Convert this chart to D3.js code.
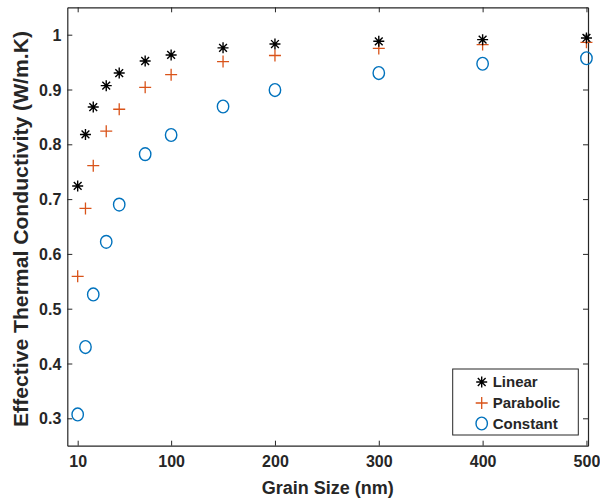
<!DOCTYPE html>
<html><head><meta charset="utf-8">
<script src="https://cdn.jsdelivr.net/npm/d3@7"></script>
<style>body{margin:0;background:#fff}svg{display:block}text{font-family:"Liberation Sans",Arial,sans-serif;font-weight:bold;fill:#262626}</style>
</head><body>
<svg id="c" width="600" height="499"></svg>
<script>
const grainSize = [10, 17.5, 25, 37.5, 50, 75, 100, 150, 200, 300, 400, 500];
const linear    = [0.724, 0.818, 0.868, 0.907, 0.930, 0.952, 0.963, 0.976, 0.983, 0.988, 0.991, 0.994];
const parabolic = [0.559, 0.683, 0.761, 0.824, 0.864, 0.904, 0.927, 0.951, 0.962, 0.975, 0.982, 0.986];
const constant  = [0.307, 0.430, 0.526, 0.622, 0.690, 0.782, 0.817, 0.869, 0.899, 0.930, 0.947, 0.957];
const xTicks = [10, 100, 200, 300, 400, 500];
const yTicks = [0.3, 0.4, 0.5, 0.6, 0.7, 0.8, 0.9, 1];
const seriesNames = ["Linear", "Parabolic", "Constant"];
const seriesColors = ["#000000", "#D95319", "#0072BD"];

const svg = d3.select("#c");
const L = 67.3, R = 588, T = 7.3, B = 445.7;
const x = d3.scaleLinear().domain([0, 501.5]).range([L, R]);
const y = d3.scaleLinear().domain([0.25, 1.05]).range([B, T]);
const axisColor = "#262626";

// axes (inward ticks, boxed)
const fmtY = d => d === 1 ? "1" : d3.format(".1f")(d);
const gB = svg.append("g").attr("transform", `translate(0,${B})`)
  .call(d3.axisBottom(x).tickValues(xTicks).tickSizeInner(-5).tickSizeOuter(0).tickPadding(10));
const gT = svg.append("g").attr("transform", `translate(0,${T})`)
  .call(d3.axisTop(x).tickValues(xTicks).tickSizeInner(-5).tickSizeOuter(0).tickFormat(""));
const gL = svg.append("g").attr("transform", `translate(${L},0)`)
  .call(d3.axisLeft(y).tickValues(yTicks).tickSizeInner(-5).tickSizeOuter(0).tickPadding(6).tickFormat(fmtY));
const gR = svg.append("g").attr("transform", `translate(${R},0)`)
  .call(d3.axisRight(y).tickValues(yTicks).tickSizeInner(-5).tickSizeOuter(0).tickFormat(""));
[gB, gT, gL, gR].forEach(g => {
  g.select(".domain").attr("stroke", axisColor).attr("stroke-width", 1.2);
  g.selectAll(".tick line").attr("stroke", axisColor).attr("stroke-width", 1);
  g.selectAll(".tick text").style("font-size", "16px").attr("fill", axisColor);
});
gB.selectAll(".tick text").attr("dy", "0.71em");
gL.selectAll(".tick text").attr("dy", "0.35em");

// axis labels
svg.append("text").attr("x", (L + R) / 2 + 0).attr("y", 494).attr("text-anchor", "middle")
  .style("font-size", "18px").text("Grain Size (nm)");
svg.append("text").attr("transform", `translate(28,229) rotate(-90)`).attr("text-anchor", "middle")
  .attr("textLength", 396).attr("lengthAdjust", "spacingAndGlyphs")
  .style("font-size", "20px").text("Effective Thermal Conductivity (W/m.K)");

// marker drawers
function star(g, cx, cy, r, color) {
  const d = [0, 45, 90, 135].map(a => {
    const t = a * Math.PI / 180, dx = r * Math.cos(t), dy = r * Math.sin(t);
    return `M${cx - dx},${cy - dy}L${cx + dx},${cy + dy}`;
  }).join("");
  g.append("path").attr("d", d).attr("stroke", color).attr("stroke-width", 1.4).attr("fill", "none");
}
function plus(g, cx, cy, r, color) {
  g.append("path").attr("d", `M${cx - r},${cy}L${cx + r},${cy}M${cx},${cy - r}L${cx},${cy + r}`)
    .attr("stroke", color).attr("stroke-width", 1.3).attr("fill", "none");
}
function circ(g, cx, cy, color) {
  g.append("ellipse").attr("cx", cx).attr("cy", cy).attr("rx", 5.7).attr("ry", 6.4)
    .attr("stroke", color).attr("stroke-width", 1.4).attr("fill", "none");
}

const gm = svg.append("g");
grainSize.forEach((g, i) => { circ(gm, x(g), y(constant[i]), seriesColors[2]); });
grainSize.forEach((g, i) => { plus(gm, x(g), y(parabolic[i]), 6, seriesColors[1]); });
grainSize.forEach((g, i) => { star(gm, x(g), y(linear[i]), 5.5, seriesColors[0]); });

// legend
const lg = svg.append("g");
lg.append("rect").attr("x", 452.7).attr("y", 369).attr("width", 125.6).attr("height", 66)
  .attr("fill", "#fff").attr("stroke", axisColor).attr("stroke-width", 1);
const ly = [382, 403, 423.5];
star(lg, 481.7, ly[0], 5.5, seriesColors[0]);
plus(lg, 481.7, ly[1], 6, seriesColors[1]);
circ(lg, 481.7, ly[2], seriesColors[2]);
seriesNames.forEach((n, i) => {
  lg.append("text").attr("x", 492.7).attr("y", ly[i]).attr("dy", "0.36em")
    .style("font-size", "15px").attr("fill", "#000").text(n);
});
</script>
</body></html>
